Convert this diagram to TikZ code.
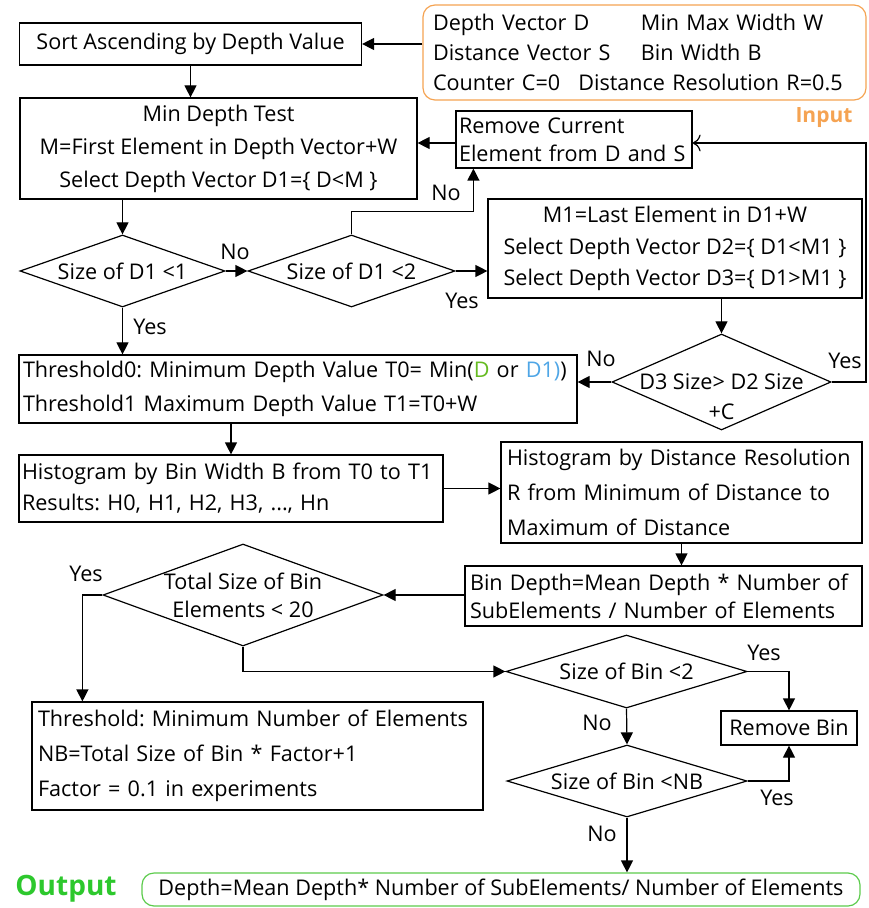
\documentclass[tikz,border=0pt]{standalone}
\usepackage{fontspec}
\setmainfont{Open Sans}
\frenchspacing
\usetikzlibrary{shapes.geometric,arrows.meta}
\definecolor{inorange}{HTML}{F5A352}
\definecolor{outgreen}{HTML}{2DC82D}
\definecolor{outframe}{HTML}{5CCB4C}
\definecolor{dgreen}{HTML}{66BB22}
\definecolor{dblue}{HTML}{4FA6E6}
\begin{document}
\begin{tikzpicture}[x=0.5pt,y=-0.5pt,
  every node/.style={font=\fontsize{10.8}{15}\selectfont},
  lsp/.style={font=\fontsize{10.8}{#1}\selectfont},
  box/.style={draw,line width=0.6pt,inner xsep=3pt,inner ysep=0pt,align=left},
  cbox/.style={box,align=center},
  dec/.style={draw,diamond,line width=0.6pt,inner sep=-14pt,shape aspect=2.5,align=center},
  lbl/.style={inner sep=0pt},
  arr/.style={line width=0.6pt,-{Triangle[length=6pt,width=6pt]}},
  back/.style={line width=0.6pt,-{To[length=4pt]}}]
\useasboundingbox (0,0) rectangle (868,908);

\node[cbox,minimum width=171pt,minimum height=21pt] (sort) at (190.5,44) {Sort Ascending by Depth Value};
\node[box,draw=inorange,rounded corners=6pt,inner xsep=5pt,text width=211.5pt,minimum height=47.5pt] (input) at (644.5,52.5)
  {\makebox[104pt][l]{Depth Vector D}Min Max Width W\\\makebox[104pt][l]{Distance Vector S}Bin Width B\\Counter C=0\hspace{9pt}Distance Resolution R=0.5};
\node[lbl,text=inorange,font=\fontsize{10.5}{12}\selectfont\bfseries] (inlabel) at (824,118) {Input};
\node[cbox,lsp=16.5,minimum width=198.5pt,minimum height=50.5pt] (mindepth) at (218.5,148.5)
  {Min Depth Test\\M=First Element in Depth Vector+W\\Select Depth Vector D1=\{ D<M \}};
\node[box,lsp=14,inner xsep=1.5pt,text width=115pt,minimum height=28.5pt] (remove) at (574,139.5) {Remove Current\\Element from D and S};
\node[dec,minimum width=102.5pt,minimum height=36pt] (d1) at (122.5,271) {Size of D1 <1};
\node[dec,minimum width=103.5pt,minimum height=36pt] (d2) at (351.5,271) {Size of D1 <2};
\node[cbox,lsp=15.75,minimum width=187pt,minimum height=49.5pt] (m1) at (675,248.5)
  {M1=Last Element in D1+W\\Select Depth Vector D2=\{ D1<M1 \}\\Select Depth Vector D3=\{ D1>M1 \}};
\node[dec,minimum width=109.5pt,minimum height=48pt,text height=40pt,text depth=3pt] (d3) at (721.5,382) {D3 Size> D2 Size\\+C};
\node[box,lsp=17,inner xsep=2pt,text width=275pt,minimum height=34pt] (thr) at (298,389)
  {Threshold0: Minimum Depth Value T0= Min(\textcolor{dgreen}{D} or \textcolor{dblue}{D1)})\\Threshold1 Maximum Depth Value T1=T0+W};
\node[box,lsp=15.5,inner xsep=1.5pt,text width=209pt,minimum height=33.5pt] (hist) at (231,488.5)
  {Histogram by Bin Width B from T0 to T1\\Results: H0, H1, H2, H3, ..., Hn};
\node[box,lsp=17.5,text width=174.5pt,minimum height=50.5pt] (dist) at (681.5,492.5)
  {Histogram by Distance Resolution\\R from Minimum of Distance to\\Maximum of Distance};
\node[box,lsp=14,inner xsep=2.5pt,text width=193.5pt,minimum height=30pt] (bindepth) at (663.5,596)
  {Bin Depth=Mean Depth * Number of\\SubElements / Number of Elements};
\node[dec,lsp=14,minimum width=140pt,minimum height=51pt] (d4) at (243,595) {Total Size of Bin\\Elements < 20};
\node[dec,minimum width=120.5pt,minimum height=36.5pt] (d5) at (626.5,671.5) {Size of Bin <2};
\node[cbox,minimum width=68pt,minimum height=17pt] (removebin) at (789,728) {Remove Bin};
\node[dec,minimum width=120pt,minimum height=36pt] (d6) at (627,781) {Size of Bin <NB};
\node[box,lsp=17.5,text width=219.5pt,minimum height=54pt] (nb) at (257.5,756)
  {Threshold: Minimum Number of Elements\\NB=Total Size of Bin * Factor+1\\Factor = 0.1 in experiments};
\node[cbox,draw=outframe,rounded corners=6pt,minimum width=359pt,minimum height=16.5pt] (output) at (501,889.5)
  {Depth=Mean Depth* Number of SubElements/ Number of Elements};
\node[lbl,text=outgreen,font=\fontsize{14}{16}\selectfont\bfseries] (outlabel) at (66,889) {Output};

\foreach \nm/\px/\py/\txt in {no1/235/252/No, no2/446/193/No, yes1/462/301/Yes, yes2/150/327/Yes, no3/601/359/No, yes3/845/361/Yes, yes4/86/574/Yes, yes5/764/653/Yes, no4/597/723/No, yes6/777/798/Yes, no5/602/834/No}
  \node[lbl] (\nm) at (\px,\py) {\txt};

\coordinate (loop) at (866,143);
\draw[arr] (input.west |- sort.east) -- (sort.east);
\draw[arr] (sort.south) -- (sort.south |- mindepth.north);
\draw[arr] (remove.west |- loop) -- (mindepth.east |- loop);
\draw[arr] (d1.north |- mindepth.south) -- (d1.north);
\draw[arr] (d1.east) -- (d2.west);
\draw[arr] (d2.north) -- ++(0,-23) -| ([xshift=9pt]remove.south west);
\draw[arr] (d2.east) -- (d2.east -| m1.west);
\draw[arr] (d3.north |- m1.south) -- (d3.north);
\draw[back] (d3.east) -| (loop) -- (remove.east |- loop);
\draw[arr] (d3.west) -- (d3.west -| thr.east);
\draw[arr] (d1.south) -- (d1.south |- thr.north);
\draw[arr] (hist.north |- thr.south) -- (hist.north);
\draw[arr] (hist.east) -- (hist.east -| dist.west);
\draw[arr] (dist.south) -- (dist.south |- bindepth.north);
\draw[arr] (bindepth.west |- d4.east) -- (d4.east);
\draw[arr] (d4.west) -| ([xshift=25.5pt]nb.north west);
\draw[arr] (d4.south) |- (d5.west);
\draw[arr] (d5.east) -| (removebin.north);
\draw[arr] (d5.south) -- (d6.north);
\draw[arr] (d6.east) -| (removebin.south);
\draw[arr] (d6.south) -- (d6.south |- output.north);
\end{tikzpicture}
\end{document}
